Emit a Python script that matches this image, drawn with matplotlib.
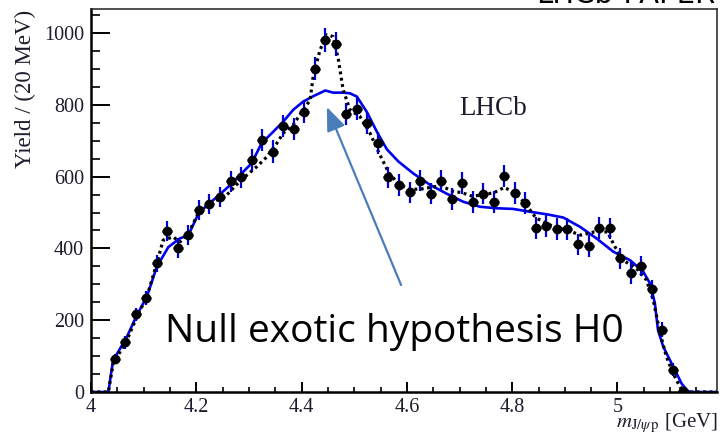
import matplotlib
matplotlib.use("Agg")
import matplotlib.pyplot as plt

# ---- data ----
bin_centers = [4.045 + 0.02 * k for k in range(55)]
yields = [93, 139, 216, 262, 358, 449, 402, 437, 506, 524,
          542, 587, 598, 646, 702, 670, 741, 732, 780, 901,
          981, 970, 774, 788, 750, 694, 598, 577, 556, 589,
          553, 589, 537, 582, 530, 553, 530, 602, 554, 527,
          457, 462, 454, 454, 411, 407, 457, 456, 372, 332,
          351, 286, 174, 62, 3]
yield_err = [14, 18, 18, 20, 24, 28, 28, 28, 28, 28,
             28, 30, 30, 30, 31, 31, 31, 31, 31, 33,
             34, 34, 31, 31, 31, 30, 30, 30, 30, 30,
             30, 30, 30, 30, 30, 30, 30, 30, 30, 30,
             30, 30, 30, 30, 30, 30, 30, 30, 30, 30,
             28, 27, 22, 18, 8]

# null hypothesis fit (blue solid)
h0_x = [4.000, 4.033, 4.037, 4.042, 4.068, 4.087, 4.106, 4.125, 4.147, 4.169,
        4.185, 4.205, 4.245, 4.264, 4.286, 4.305, 4.324, 4.346, 4.365, 4.384,
        4.403, 4.422, 4.445, 4.460, 4.479, 4.492, 4.505, 4.524, 4.543, 4.562,
        4.584, 4.612, 4.644, 4.675, 4.707, 4.739, 4.770, 4.802, 4.834, 4.866,
        4.897, 4.929, 4.960, 4.992, 5.024, 5.049, 5.062, 5.071, 5.077, 5.087,
        5.106, 5.122, 5.132, 5.138, 5.189]
h0_y = [0, 0, 40, 88, 153, 214, 265, 349, 404, 428,
        437, 500, 551, 576, 609, 637, 693, 725, 753, 786,
        809, 824, 840, 834, 834, 832, 823, 780, 725, 676,
        642, 609, 577, 553, 530, 516, 512, 510, 502, 495,
        486, 460, 428, 391, 367, 335, 302, 247, 172, 126,
        70, 23, 5, 0, 0]

# full fit with exotic states (black dotted)
full_x = [4.000, 4.033, 4.042, 4.068, 4.087, 4.106, 4.125, 4.137, 4.156, 4.169,
          4.185, 4.205, 4.227, 4.258, 4.276, 4.296, 4.315, 4.334, 4.353, 4.365,
          4.384, 4.403, 4.416, 4.422, 4.435, 4.448, 4.460, 4.470, 4.479, 4.492,
          4.511, 4.530, 4.546, 4.565, 4.585, 4.605, 4.625, 4.645, 4.665, 4.685,
          4.705, 4.725, 4.745, 4.765, 4.785, 4.805, 4.825, 4.845, 4.879, 4.904,
          4.930, 4.956, 4.981, 4.995, 5.011, 5.036, 5.055, 5.068, 5.081, 5.093,
          5.106, 5.119, 5.126, 5.189]
full_y = [0, 0, 79, 144, 209, 265, 358, 423, 432, 418,
          442, 502, 525, 549, 577, 604, 628, 655, 693, 721,
          744, 786, 813, 879, 953, 995, 990, 925, 841, 786,
          767, 721, 669, 612, 578, 565, 565, 570, 575, 560,
          555, 545, 550, 555, 570, 555, 525, 485, 460, 451,
          437, 446, 446, 405, 367, 344, 312, 256, 163, 98,
          51, 14, 0, 0]

x_ticks = [4.0, 4.2, 4.4, 4.6, 4.8, 5.0]
x_tick_labels = ["4", "4.2", "4.4", "4.6", "4.8", "5"]
y_ticks = [0, 200, 400, 600, 800, 1000]

# ---- figure ----
plt.rcParams['mathtext.fontset'] = 'stix'
fig = plt.figure(figsize=(7.2, 4.36), dpi=100)
ax = fig.add_axes([91/720, 1 - 392/436, (717 - 91)/720, (392 - 9)/436])

ax.plot(h0_x, h0_y, color='#0000ee', lw=1.9, zorder=2, solid_joinstyle='round')
ax.plot(full_x, full_y, color='black', lw=2.3, linestyle=(0, (0.9, 1.1)), zorder=3)

ax.errorbar(bin_centers, yields, yerr=yield_err, fmt='none', ecolor='#0000cc',
            elinewidth=1.6, capsize=0, zorder=4)
ax.errorbar(bin_centers, yields, xerr=0.0095, fmt='o', color='black', ms=6,
            elinewidth=2.0, capsize=0, zorder=5)

ax.set_xlim(4.0, 5.189)
ax.set_ylim(0, 1067)

ax.set_xticks(x_ticks)
ax.set_xticklabels(x_tick_labels)
ax.set_yticks(y_ticks)
ax.set_xticks([4.0 + 0.05 * i for i in range(24)], minor=True)
ax.set_yticks([50 * i for i in range(22)], minor=True)

for lab in ax.get_xticklabels() + ax.get_yticklabels():
    lab.set_family('Liberation Serif')
    lab.set_fontsize(14.5)
    lab.set_color('#1c1c2c')

ax.tick_params(axis='x', which='major', direction='in', length=7, width=1.4, pad=4)
ax.tick_params(axis='x', which='minor', direction='in', length=3.8, width=1.2)
ax.tick_params(axis='y', which='major', direction='in', length=13.5, width=1.4, pad=5)
ax.tick_params(axis='y', which='minor', direction='in', length=6.8, width=1.2)
ax.tick_params(top=False, right=False, which='both')

for s in ['left', 'bottom']:
    ax.spines[s].set_linewidth(1.8)
for s in ['top', 'right']:
    ax.spines[s].set_linewidth(1.1)
    ax.spines[s].set_color('#222222')

# texts
ax.text(4.699, 772, 'LHCb', family='Liberation Serif', fontsize=19.5, color='#1c1c2c')
fig.text(718/720, 1 - 427/436, r'$m_{\mathrm{J}/\psi\,\mathrm{p}}$ [GeV]',
         family='Liberation Serif', fontsize=15, ha='right', va='baseline', color='#1c1c2c')
fig.text(25/720, 1 - 10/436, 'Yield / (20 MeV)', family='Liberation Serif', fontsize=16.5,
         rotation=90, ha='center', va='top', color='#1c1c2c')
fig.text(715/720, 1 - 3/436, 'LHCb-PAPER', family='DejaVu Sans', fontsize=21,
         ha='right', va='baseline', color='black')
fig.text(165/720, 1 - 342/436, 'Null exotic hypothesis H0', family='Open Sans',
         fontsize=28, ha='left', va='baseline', color='black')

ax.annotate('', xy=(4.448, 794), xytext=(4.589, 298),
            arrowprops=dict(arrowstyle='-|>,head_length=0.8,head_width=0.32',
                            mutation_scale=18, color='#4a7ebb', lw=1.6,
                            shrinkA=0, shrinkB=0), zorder=6)

fig.savefig('out.png', dpi=100)
